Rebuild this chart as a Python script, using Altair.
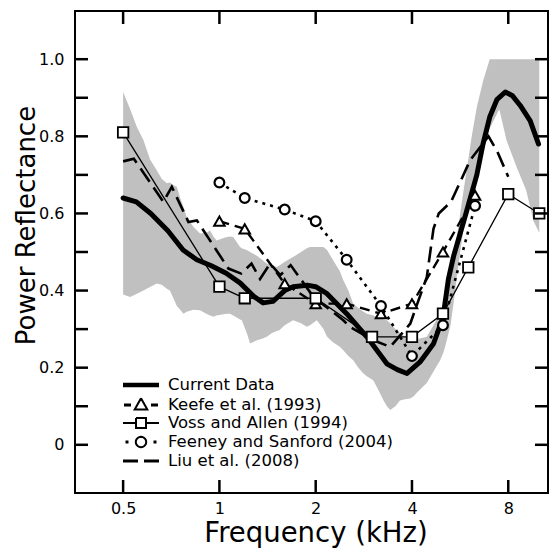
import math
import altair as alt
import pandas as pd

# ---------------- data ----------------
cur_f = [0.5, 0.55, 0.61, 0.69, 0.77, 0.85, 0.94, 1.05, 1.16, 1.28, 1.37, 1.47, 1.6, 1.7,
         1.88, 2.0, 2.17, 2.5, 2.89, 3.34, 3.6, 3.86, 4.24, 4.67, 5.0, 5.2, 5.4, 5.6, 5.9,
         6.38, 6.67, 7.0, 7.37, 7.83, 8.25, 8.72, 9.37, 9.95]
cur_v = [0.64, 0.63, 0.60, 0.555, 0.505, 0.48, 0.465, 0.445, 0.42, 0.385, 0.368, 0.372, 0.40, 0.41,
         0.414, 0.41, 0.392, 0.34, 0.28, 0.21, 0.195, 0.185, 0.215, 0.262, 0.33, 0.43, 0.49, 0.535, 0.60,
         0.70, 0.78, 0.85, 0.895, 0.915, 0.905, 0.88, 0.84, 0.78]

band_f = [0.5, 0.526, 0.552, 0.579, 0.607, 0.637, 0.66, 0.685, 0.70, 0.718, 0.736, 0.754, 0.772,
          0.79, 0.83, 0.87, 0.91, 0.935, 0.958, 0.98, 1.02, 1.055, 1.08, 1.105, 1.16, 1.175, 1.218,
          1.247, 1.31, 1.36, 1.406, 1.46, 1.51, 1.54, 1.60, 1.70, 1.80, 1.876, 1.92, 2.016, 2.116,
          2.17, 2.27, 2.38, 2.44, 2.53, 2.62, 2.72, 2.82, 2.89, 3.03, 3.15, 3.26, 3.34, 3.42, 3.55,
          3.67, 3.8, 3.95, 4.04, 4.2, 4.45, 4.67, 4.9, 5.02, 5.14, 5.28, 5.4, 5.53, 5.66, 5.8, 5.95,
          6.15, 6.38, 6.68, 7.0, 7.5, 7.9, 8.5, 9.1, 9.6, 10.0]
band_lo = [0.39, 0.383, 0.392, 0.40, 0.409, 0.418, 0.415, 0.405, 0.40, 0.38, 0.36, 0.35, 0.34,
           0.345, 0.35, 0.349, 0.34, 0.335, 0.332, 0.335, 0.338, 0.34, 0.34, 0.335, 0.325, 0.323, 0.29,
           0.263, 0.271, 0.275, 0.28, 0.29, 0.295, 0.297, 0.31, 0.323, 0.315, 0.306, 0.31, 0.323, 0.30,
           0.28, 0.265, 0.254, 0.245, 0.23, 0.219, 0.20, 0.185, 0.178, 0.167, 0.14, 0.115, 0.10, 0.09, 0.10,
           0.115, 0.118, 0.12, 0.125, 0.14, 0.16, 0.19, 0.219, 0.24, 0.271, 0.31, 0.37, 0.44, 0.50, 0.56, 0.61,
           0.66, 0.70, 0.76, 0.82, 0.87, 0.79, 0.72, 0.66, 0.58, 0.55]
band_hi = [0.915, 0.87, 0.824, 0.79, 0.74, 0.712, 0.69, 0.678, 0.68, 0.673, 0.669, 0.64, 0.617,
           0.591, 0.565, 0.548, 0.55, 0.556, 0.54, 0.53, 0.535, 0.539, 0.54, 0.539, 0.513, 0.51, 0.505,
           0.50, 0.49, 0.48, 0.47, 0.465, 0.461, 0.465, 0.475, 0.487, 0.50, 0.51, 0.513, 0.513, 0.513,
           0.505, 0.478, 0.45, 0.427, 0.40, 0.366, 0.355, 0.345, 0.34, 0.335, 0.33, 0.325, 0.323, 0.315, 0.30,
           0.29, 0.28, 0.271, 0.272, 0.275, 0.28, 0.31, 0.345, 0.366, 0.40, 0.44, 0.49, 0.54, 0.60, 0.66, 0.72,
           0.80, 0.876, 0.945, 1.0, 1.0, 1.0, 1.0, 1.0, 1.0, 1.0]

keefe_f = [1.0, 1.2, 1.6, 2.0, 2.5, 3.2, 4.0, 5.0, 6.3]
keefe_v = [0.58, 0.56, 0.418, 0.366, 0.366, 0.34, 0.366, 0.50, 0.647]

voss_f = [0.5, 1.0, 1.2, 2.0, 3.0, 4.0, 5.0, 6.0, 8.0, 10.0]
voss_v = [0.81, 0.41, 0.38, 0.38, 0.28, 0.28, 0.34, 0.46, 0.65, 0.60]

feeney_f = [1.0, 1.2, 1.6, 2.0, 2.5, 3.2, 4.0, 5.0, 6.3]
feeney_v = [0.68, 0.64, 0.61, 0.58, 0.48, 0.36, 0.23, 0.31, 0.62]

liu_f = [0.5, 0.54, 0.668, 0.71, 0.80, 0.85, 1.067, 1.17, 1.26, 1.34, 1.44, 1.55, 1.67, 1.97,
         2.44, 2.56, 3.03, 3.42, 3.95, 4.45, 4.67, 4.85, 5.3, 6.08, 6.94, 7.4, 8.0]
liu_v = [0.735, 0.742, 0.63, 0.669, 0.578, 0.582, 0.457, 0.444, 0.47, 0.43, 0.47, 0.44, 0.466, 0.383,
         0.323, 0.306, 0.271, 0.254, 0.314, 0.435, 0.56, 0.60, 0.63, 0.738, 0.80, 0.76, 0.695]

series_names = ["Current Data", "Keefe et al. (1993)", "Voss and Allen (1994)",
                "Feeney and Sanford (2004)", "Liu et al. (2008)"]

x_tick_vals = [0.5, 1, 2, 4, 8]
y_tick_vals = [0, 0.1, 0.2, 0.3, 0.4, 0.5, 0.6, 0.7, 0.8, 0.9, 1.0]

# ---------------- styling ----------------
FONT = "DejaVu Sans"
W, H = 473, 482
TICK = 13
X_DOMAIN = [0.3536, 10.65]
Y_DOMAIN = [-0.125, 1.125]


def xscale():
    return alt.Scale(type="log", domain=X_DOMAIN, nice=False)


def yscale():
    return alt.Scale(domain=Y_DOMAIN, nice=False, zero=False)


xaxis = alt.Axis(values=x_tick_vals, orient="bottom", ticks=False, tickSize=0, domain=False, grid=False,
                 labelFont=FONT, labelFontSize=16, labelColor="black", labelPadding=20,
                 labelBaseline="alphabetic", labelExpr="format(datum.value, '~g')",
                 labelFlush=False, labelOverlap=False,
                 titleFont=FONT, titleFontSize=27.5, titleFontWeight="normal", titleColor="black",
                 titleX=240.5, titleY=48.5, titleBaseline="alphabetic")
yaxis = alt.Axis(values=y_tick_vals, orient="left", ticks=False, tickSize=0, domain=False, grid=False,
                 labelFont=FONT, labelFontSize=16, labelColor="black", labelPadding=11,
                 labelExpr="round(datum.value * 10) % 2 != 0 ? '' : (datum.value == 0 ? '0' : format(datum.value, '.1f'))",
                 labelFlush=False, labelOverlap=False,
                 titleFont=FONT, titleFontSize=26, titleFontWeight="normal", titleColor="black",
                 titleAngle=270, titleX=-41, titleY=214, titleBaseline="alphabetic",
                 titleAlign="center")


def X(field):
    return alt.X(field, type="quantitative", scale=xscale(), axis=xaxis, title="Frequency (kHz)")


def Y(field):
    return alt.Y(field, type="quantitative", scale=yscale(), axis=yaxis, title="Power Reflectance")


band_df = pd.DataFrame({"f": band_f, "lo": band_lo, "hi": band_hi})
cur_df = pd.DataFrame({"f": cur_f, "v": cur_v})
keefe_df = pd.DataFrame({"f": keefe_f, "v": keefe_v})
voss_df = pd.DataFrame({"f": voss_f, "v": voss_v})
feeney_df = pd.DataFrame({"f": feeney_f, "v": feeney_v})
liu_df = pd.DataFrame({"f": liu_f, "v": liu_v})

band = alt.Chart(band_df).mark_area(color="#c0c0c0", opacity=1).encode(
    x=X("f"), y=Y("lo"), y2="hi")

voss_line = alt.Chart(voss_df).mark_line(color="black", strokeWidth=1.3).encode(x=X("f"), y=Y("v"))
keefe_line = alt.Chart(keefe_df).mark_line(color="black", strokeWidth=2.4, strokeDash=[10, 6]).encode(
    x=X("f"), y=Y("v"))
feeney_line = alt.Chart(feeney_df).mark_line(color="black", strokeWidth=2.6, strokeDash=[3, 5]).encode(
    x=X("f"), y=Y("v"))
liu_line = alt.Chart(liu_df).mark_line(color="black", strokeWidth=2.6, strokeDash=[16, 7]).encode(
    x=X("f"), y=Y("v"))
cur_line = alt.Chart(cur_df).mark_line(color="black", strokeWidth=5, strokeJoin="round",
                                       strokeCap="round").encode(x=X("f"), y=Y("v"))

pt = dict(filled=True, fill="white", stroke="black", opacity=1)
keefe_pts = alt.Chart(keefe_df).mark_point(shape="triangle-up", size=110, strokeWidth=2, **pt).encode(
    x=X("f"), y=Y("v"))
voss_pts = alt.Chart(voss_df).mark_point(shape="square", size=110, strokeWidth=1.8, **pt).encode(
    x=X("f"), y=Y("v"))
feeney_pts = alt.Chart(feeney_df).mark_point(shape="circle", size=95, strokeWidth=2.2, **pt).encode(
    x=X("f"), y=Y("v"))

# ---- inward frame ticks: one rule per tick, both ends given through the scales ----
kx = 2 ** (TICK * math.log2(X_DOMAIN[1] / X_DOMAIN[0]) / W)     # 13 px along log-x
dy = TICK * (Y_DOMAIN[1] - Y_DOMAIN[0]) / H                     # 13 px along y
rows = []
for t in x_tick_vals:
    rows.append({"f": t, "f2": t, "v": Y_DOMAIN[0], "v2": Y_DOMAIN[0] + dy})
    rows.append({"f": t, "f2": t, "v": Y_DOMAIN[1] - dy, "v2": Y_DOMAIN[1]})
for t in y_tick_vals:
    rows.append({"f": X_DOMAIN[0], "f2": X_DOMAIN[0] * kx, "v": t, "v2": t})
    rows.append({"f": X_DOMAIN[1] / kx, "f2": X_DOMAIN[1], "v": t, "v2": t})
tick_df = pd.DataFrame(rows)
frame_ticks = alt.Chart(tick_df).mark_rule(color="black", strokeWidth=2.5).encode(
    x=X("f"), x2="f2:Q", y=Y("v"), y2="v2:Q")

# ---- legend symbols: line samples with markers (drawn in px, scaled to symbol units) ----
SYM = 16.0          # symbol size (diameter) used by the legend layout
U = SYM / 2.0       # px per path unit


def P(cmds):
    out = []
    for c, pts in cmds:
        out.append(c + " ".join(f"{x / U:.4f},{y / U:.4f}" for x, y in pts))
    return "".join(out)


def seg(x0, x1, ys):
    r = []
    for y in ys:
        r += [("M", [(x0, y)]), ("L", [(x1, y)])]
    return r


circle_pts = [(5.2 * math.cos(2 * math.pi * i / 28), 5.2 * math.sin(2 * math.pi * i / 28)) for i in range(29)]
legend_paths = [
    P(seg(-18, 18, [-1.2, -0.6, 0, 0.6, 1.2])),
    P(seg(-17, -10, [-0.4, 0.4]) + seg(10, 17, [-0.4, 0.4])
      + [("M", [(0, -6.8)]), ("L", [(6.3, 4.4)]), ("L", [(-6.3, 4.4)]), ("L", [(0, -6.8)])]),
    P(seg(-18, -5, [0]) + seg(5, 18, [0])
      + [("M", [(-5, -5)]), ("L", [(5, -5)]), ("L", [(5, 5)]), ("L", [(-5, 5)]), ("L", [(-5, -5)])]),
    P(seg(-15.5, -12.5, [-0.6, 0.6]) + seg(12.5, 15.5, [-0.6, 0.6])
      + [("M", [circle_pts[0]])] + [("L", [p]) for p in circle_pts[1:]]),
    P(seg(-18, -3, [-0.4, 0.4]) + seg(3, 18, [-0.4, 0.4])),
]
leg_df = pd.DataFrame({"name": series_names, "f": [1.0] * 5, "v": [0.0] * 5})
legend_layer = alt.Chart(leg_df).transform_filter("false").mark_point(
    filled=False, color="black", strokeWidth=2, opacity=1).encode(
    x=X("f"), y=Y("v"),
    shape=alt.Shape("name:N", scale=alt.Scale(domain=series_names, range=legend_paths),
                    legend=alt.Legend(title=None, orient="none", legendX=57, legendY=365,
                                      padding=0, rowPadding=0,
                                      symbolSize=SYM * SYM, symbolStrokeWidth=2,
                                      symbolStrokeColor="black", symbolOpacity=1,
                                      labelFont=FONT, labelFontSize=16.5,
                                      labelColor="black", labelOffset=18, labelLimit=0)))

chart = alt.layer(
    band, voss_line, keefe_line, feeney_line, liu_line, cur_line,
    keefe_pts, voss_pts, feeney_pts, frame_ticks, legend_layer
).properties(
    width=W, height=H,
    padding={"left": 67, "top": 3, "right": 1, "bottom": 55},
    autosize=alt.AutoSizeParams(type="none"),
    background="white",
).configure_view(stroke="black", strokeWidth=2)

chart.save("out.html", embed_options={"renderer": "svg", "actions": False})
